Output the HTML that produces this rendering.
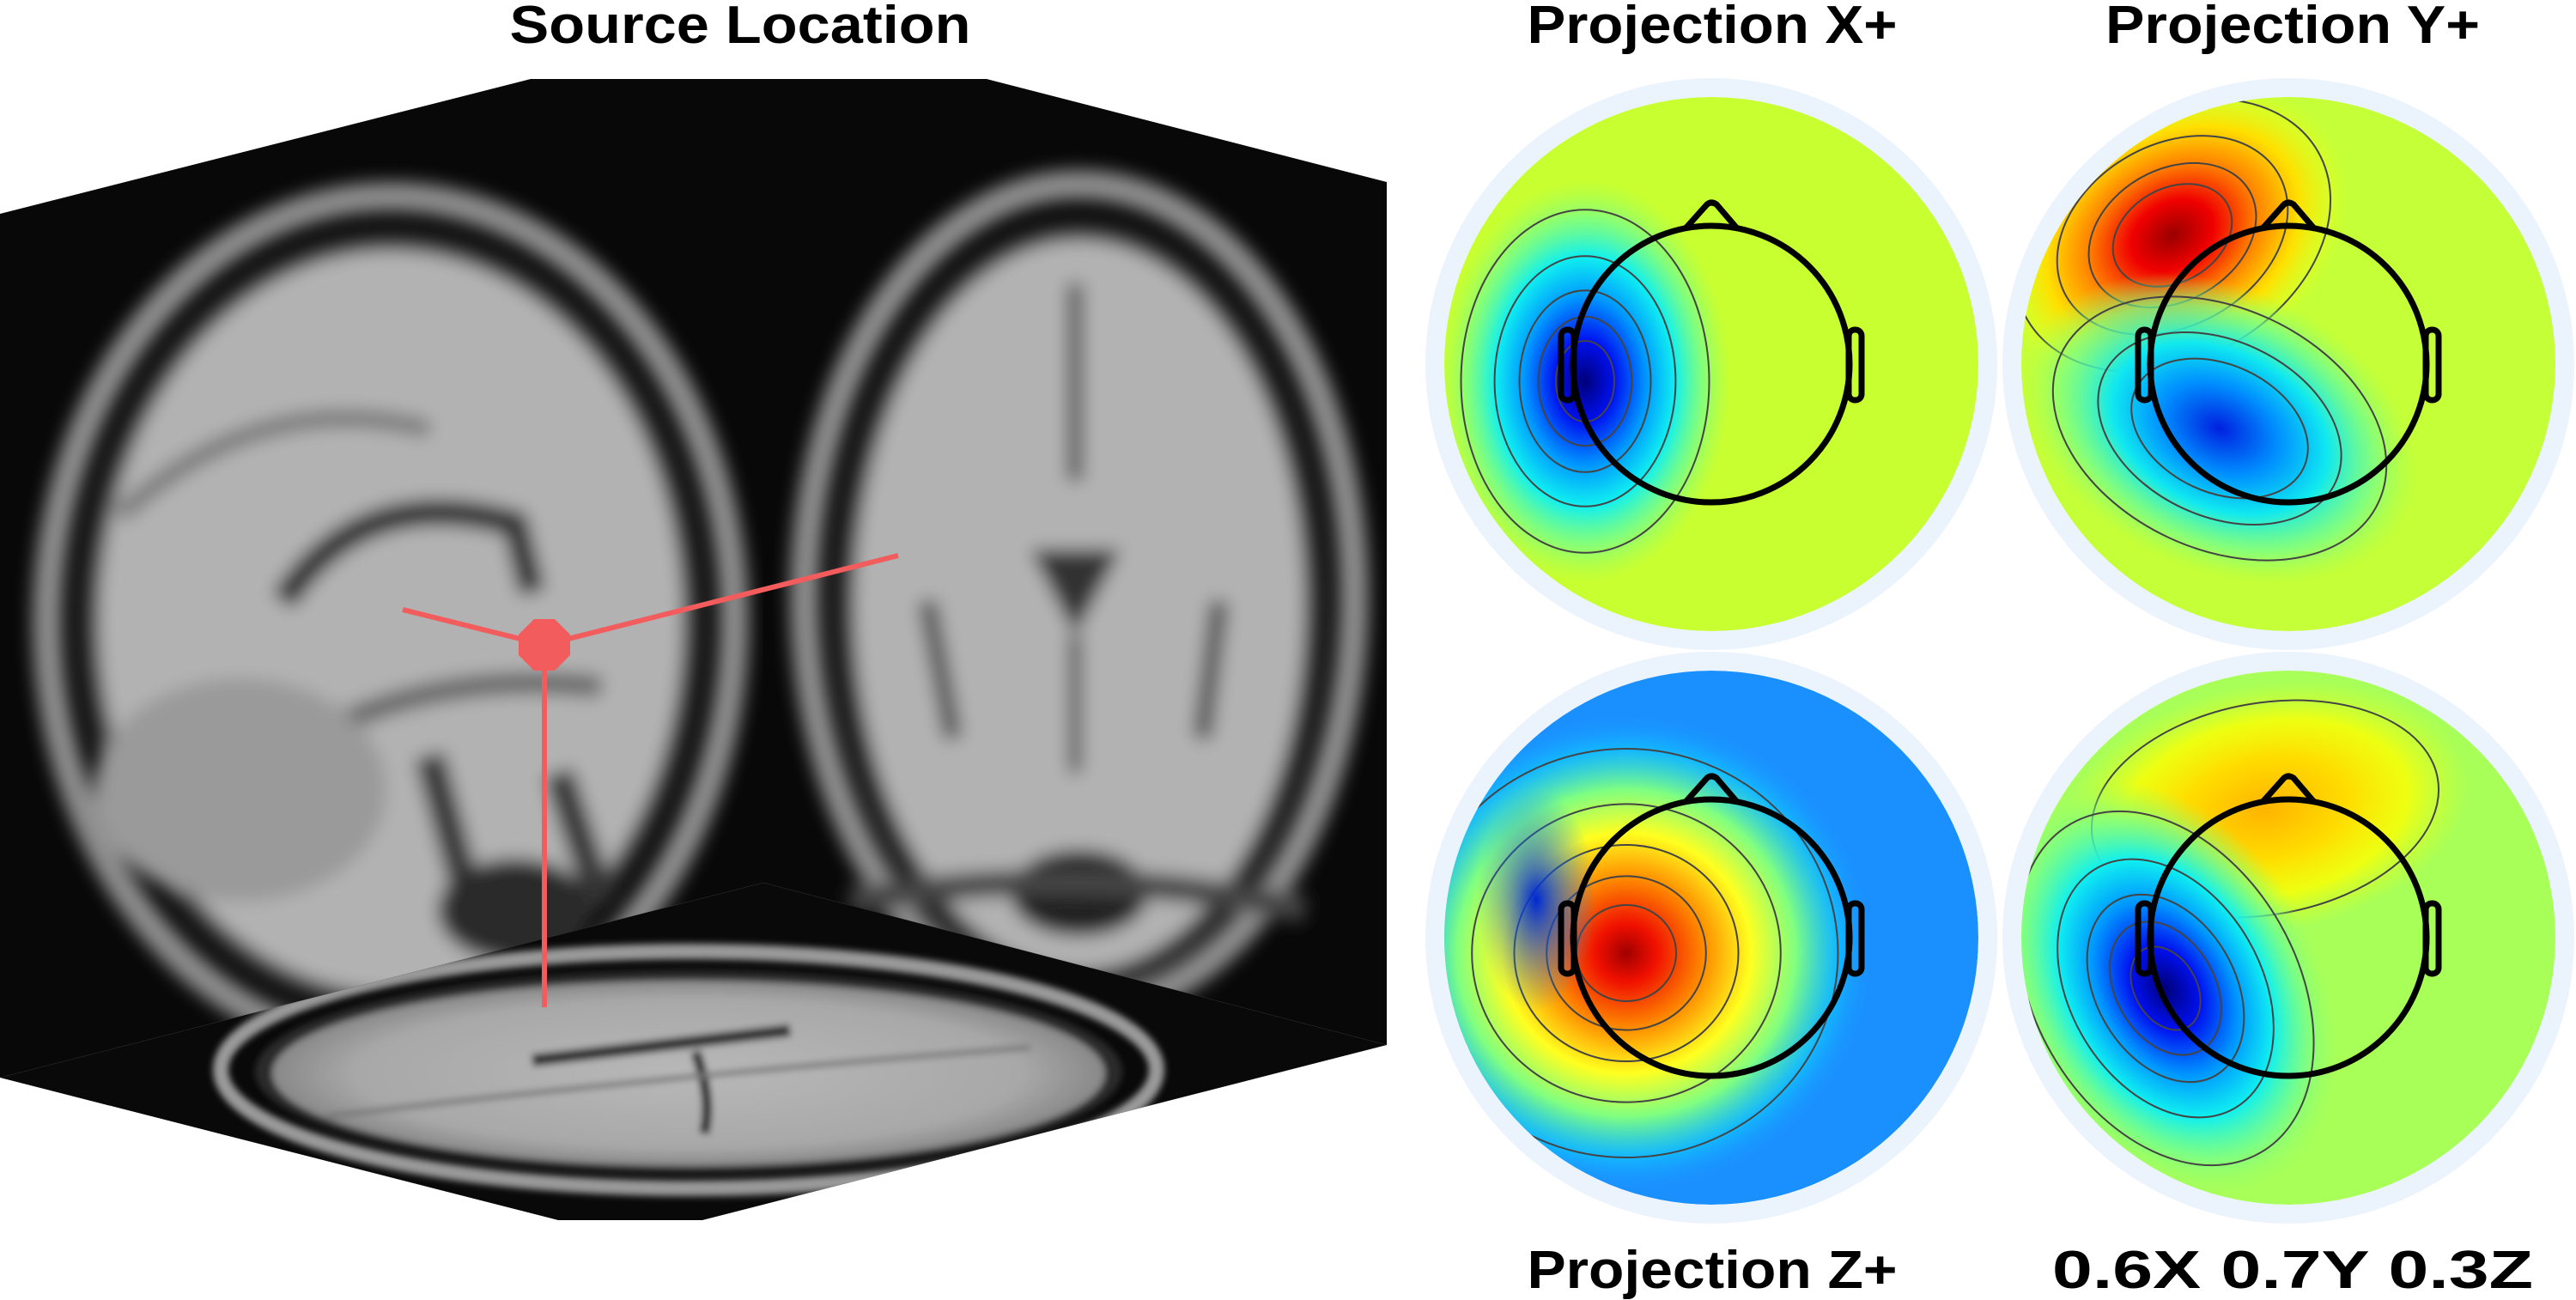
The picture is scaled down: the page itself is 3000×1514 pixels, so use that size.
<!DOCTYPE html>
<html><head><meta charset="utf-8"><style>
html,body{margin:0;padding:0;background:#fff;width:3000px;height:1514px;overflow:hidden}
svg{display:block}
text{font-family:"Liberation Sans",sans-serif;font-weight:bold;fill:#000}
</style></head><body>
<svg id="fig" width="3000" height="1514" viewBox="0 0 3000 1514" xmlns="http://www.w3.org/2000/svg">
<defs>
 <filter id="blur" x="-10%" y="-10%" width="120%" height="120%"><feGaussianBlur stdDeviation="10"/></filter>
 <filter id="blur2"><feGaussianBlur stdDeviation="4"/></filter>
 <clipPath id="cpL"><polygon points="0,249 618,92 889,92 889,1028 0,1255"/></clipPath>
 <clipPath id="cpR"><polygon points="889,92 1149,92 1615,212 1615,1217 889,1028"/></clipPath>
 <clipPath id="cpF"><polygon points="0,1255 889,1028 1615,1217 818,1421 650,1421"/></clipPath>
 <radialGradient id="neg"><stop offset="0" stop-color="#00007a"/><stop offset="0.2" stop-color="#0010f0"/><stop offset="0.42" stop-color="#0098ff"/><stop offset="0.62" stop-color="#10f0f0"/><stop offset="0.82" stop-color="#70ff90" stop-opacity="0.7"/><stop offset="1" stop-color="#a0ff60" stop-opacity="0"/></radialGradient>
 <radialGradient id="negsoft"><stop offset="0" stop-color="#0020e0"/><stop offset="0.3" stop-color="#0090ff"/><stop offset="0.55" stop-color="#10e8f0"/><stop offset="0.8" stop-color="#70ff90" stop-opacity="0.7"/><stop offset="1" stop-color="#a0ff60" stop-opacity="0"/></radialGradient>
 <radialGradient id="pos"><stop offset="0" stop-color="#9a0000"/><stop offset="0.22" stop-color="#f00000"/><stop offset="0.45" stop-color="#ff8000"/><stop offset="0.68" stop-color="#ffe000"/><stop offset="0.86" stop-color="#e0ff20" stop-opacity="0.6"/><stop offset="1" stop-color="#c0ff40" stop-opacity="0"/></radialGradient>
 <radialGradient id="weak"><stop offset="0" stop-color="#ffb400"/><stop offset="0.4" stop-color="#ffdc00"/><stop offset="0.7" stop-color="#ffff00" stop-opacity="0.8"/><stop offset="1" stop-color="#e0ff20" stop-opacity="0"/></radialGradient>
 <radialGradient id="zpos"><stop offset="0" stop-color="#a00000"/><stop offset="0.12" stop-color="#f01000"/><stop offset="0.32" stop-color="#ff9000"/><stop offset="0.5" stop-color="#ffff20"/><stop offset="0.68" stop-color="#80ff80"/><stop offset="0.85" stop-color="#10c8ff" stop-opacity="0.7"/><stop offset="1" stop-color="#1a90ff" stop-opacity="0"/></radialGradient>
 <radialGradient id="zneg"><stop offset="0" stop-color="#0028d0"/><stop offset="1" stop-color="#1a90ff" stop-opacity="0"/></radialGradient>
 <radialGradient id="floorG" cx="0.5" cy="0.5" r="0.5"><stop offset="0" stop-color="#b8b8b8"/><stop offset="0.8" stop-color="#a8a8a8"/><stop offset="1" stop-color="#888"/></radialGradient>
</defs>

<text x="862" y="50" font-size="62" text-anchor="middle" textLength="537" lengthAdjust="spacingAndGlyphs">Source Location</text>
<text x="1994" y="50" font-size="62" text-anchor="middle" textLength="431" lengthAdjust="spacingAndGlyphs">Projection X+</text>
<text x="2670" y="50" font-size="62" text-anchor="middle" textLength="436" lengthAdjust="spacingAndGlyphs">Projection Y+</text>
<text x="1994" y="1500" font-size="62" text-anchor="middle" textLength="431" lengthAdjust="spacingAndGlyphs">Projection Z+</text>
<text x="2670" y="1500" font-size="62" text-anchor="middle" textLength="560" lengthAdjust="spacingAndGlyphs">0.6X 0.7Y 0.3Z</text>

<g>
 <g clip-path="url(#cpL)">
  <rect x="0" y="80" width="900" height="1200" fill="#080808"/>
  <g filter="url(#blur)">
   <ellipse cx="455" cy="724" rx="400" ry="495" fill="none" stroke="#8e8e8e" stroke-width="34"/>
   <ellipse cx="455" cy="724" rx="360" ry="452" fill="#3a3a3a"/>
   <ellipse cx="455" cy="724" rx="340" ry="432" fill="#b2b2b2"/>
   <path d="M330,700 Q420,560 600,610 L620,690" fill="none" stroke="#2a2a2a" stroke-width="30"/>
   <path d="M380,850 Q520,780 700,800" fill="none" stroke="#666" stroke-width="25"/>
   <ellipse cx="280" cy="920" rx="170" ry="130" fill="#9a9a9a"/>
   <path d="M500,880 L560,1100 M650,900 L700,1050" stroke="#353535" stroke-width="35"/>
   <ellipse cx="600" cy="1060" rx="90" ry="60" fill="#2a2a2a"/>
   <path d="M140,600 Q300,450 500,500" stroke="#777" stroke-width="20" fill="none"/>
  </g>
 </g>
 <g clip-path="url(#cpR)">
  <rect x="880" y="80" width="740" height="1150" fill="#080808"/>
  <g filter="url(#blur)">
   <ellipse cx="1257" cy="695" rx="320" ry="480" fill="none" stroke="#8e8e8e" stroke-width="34"/>
   <ellipse cx="1257" cy="705" rx="282" ry="445" fill="#3a3a3a"/>
   <ellipse cx="1257" cy="705" rx="262" ry="425" fill="#b2b2b2"/>
   <path d="M1252,330 L1252,560" stroke="#555" stroke-width="18"/>
   <path d="M1200,640 L1252,740 L1305,640 Z" fill="#333"/>
   <path d="M1252,740 L1252,900" stroke="#444" stroke-width="14"/>
   <path d="M1080,700 L1110,860 M1420,700 L1400,860" stroke="#555" stroke-width="22"/>
   <ellipse cx="1257" cy="1040" rx="80" ry="50" fill="#222"/>
   <path d="M990,1050 Q1257,1000 1520,1060" stroke="#444" stroke-width="30" fill="none"/>
  </g>
 </g>
 <g clip-path="url(#cpF)">
  <rect x="0" y="1000" width="1620" height="430" fill="#090909"/>
  <g filter="url(#blur2)">
   <ellipse cx="802" cy="1246" rx="545" ry="138" fill="none" stroke="#9a9a9a" stroke-width="18"/>
   <ellipse cx="802" cy="1248" rx="505" ry="118" fill="#2a2a2a"/>
   <ellipse cx="802" cy="1250" rx="485" ry="108" fill="url(#floorG)"/>
   <path d="M620,1235 Q750,1220 920,1200" stroke="#333" stroke-width="14" fill="none"/>
   <path d="M810,1225 Q830,1280 820,1320" stroke="#333" stroke-width="12" fill="none"/>
   <path d="M380,1300 Q800,1250 1200,1220" stroke="#777" stroke-width="6" fill="none"/>
  </g>
 </g>
 <g stroke="#f25c5c" stroke-width="6">
  <line x1="634" y1="751" x2="469" y2="710"/>
  <line x1="634" y1="751" x2="1046" y2="647"/>
  <line x1="634" y1="751" x2="634" y2="1173"/>
  <polygon points="646,721 664,739 664,763 646,781 622,781 604,763 604,739 622,721" fill="#f25c5c" stroke="none"/>
 </g>
</g>
<g id="maps"></g>
</svg>
<script>
// topomap data: blob offsets from map center (px), radii, rotation, gradient kind
const mapKeys = ['x', 'y', 'z', 'combo'];
const mapCenterX = [1993, 2665, 1993, 2665];
const mapCenterY = [424, 424, 1092, 1092];
const mapBackground = ['#c8ff30', '#c4ff38', '#1a90ff', '#a8ff58'];
const blobMap = [0, 1, 1, 2, 2, 3, 3];
const blobDx = [-147, -135, -80, -99, -204, -27, -143];
const blobDy = [20, -150, 75, 18, -44, -150, 59];
const blobRx = [170, 230, 240, 290, 70, 240, 180];
const blobRy = [235, 170, 165, 280, 130, 145, 260];
const blobRot = [0, -30, 25, 0, 0, -10, -30];
const blobKind = ['neg', 'pos', 'negsoft', 'zpos', 'zneg', 'weak', 'neg'];
const blobContours = [5, 4, 3, 5, 0, 1, 5];
const contourLevels = [0.2, 0.32, 0.45, 0.62, 0.85];

const NS = 'http://www.w3.org/2000/svg';
const root = document.getElementById('maps');
const defs = document.querySelector('defs');
function mk(tag, attrs, parent) {
  const e = document.createElementNS(NS, tag);
  for (const k in attrs) e.setAttribute(k, attrs[k]);
  parent.appendChild(e);
  return e;
}
mapKeys.forEach((key, i) => {
  const cx = mapCenterX[i], cy = mapCenterY[i];
  const g = mk('g', {}, root);
  
  
  const ring = mk('circle', {cx: cx, cy: cy, r: 333, fill: '#ebf3fd'}, g);
  
  
  const cp = mk('clipPath', {id: 'cp-' + key}, defs);
  mk('circle', {cx: cx, cy: cy, r: 311}, cp);
  const inner = mk('g', {'clip-path': 'url(#cp-' + key + ')'}, g);
  const bg = mk('circle', {cx: cx, cy: cy, r: 311, fill: mapBackground[i]}, inner);
  
  
  blobMap.forEach((m, j) => {
    if (m !== i) return;
    const bx = cx + blobDx[j], by = cy + blobDy[j];
    const tr = 'rotate(' + blobRot[j] + ' ' + bx + ' ' + by + ')';
    const b = mk('ellipse', {cx: bx, cy: by, rx: blobRx[j], ry: blobRy[j], fill: 'url(#' + blobKind[j] + ')', transform: tr}, inner);
    
    
    const n = blobContours[j];
    contourLevels.slice(contourLevels.length - n).forEach(lv => {
      const c = mk('ellipse', {cx: bx, cy: by, rx: blobRx[j] * lv, ry: blobRy[j] * lv, fill: 'none', stroke: '#444', 'stroke-width': 2, transform: tr}, inner);
      
      
    });
  });
  const head = mk('g', {fill: 'none', stroke: '#000', 'stroke-width': 7}, g);
  
  
  mk('circle', {cx: cx, cy: cy, r: 161}, head);
  mk('path', {d: 'M' + (cx - 30) + ',' + (cy - 158) + ' L' + (cx - 5) + ',' + (cy - 186) + ' Q' + cx + ',' + (cy - 190) + ' ' + (cx + 6) + ',' + (cy - 186) + ' L' + (cx + 30) + ',' + (cy - 158)}, head);
  mk('rect', {x: cx - 175, y: cy - 40, width: 15, height: 82, rx: 7}, head);
  mk('rect', {x: cx + 160, y: cy - 40, width: 15, height: 82, rx: 7}, head);
});
</script>
</body></html>
